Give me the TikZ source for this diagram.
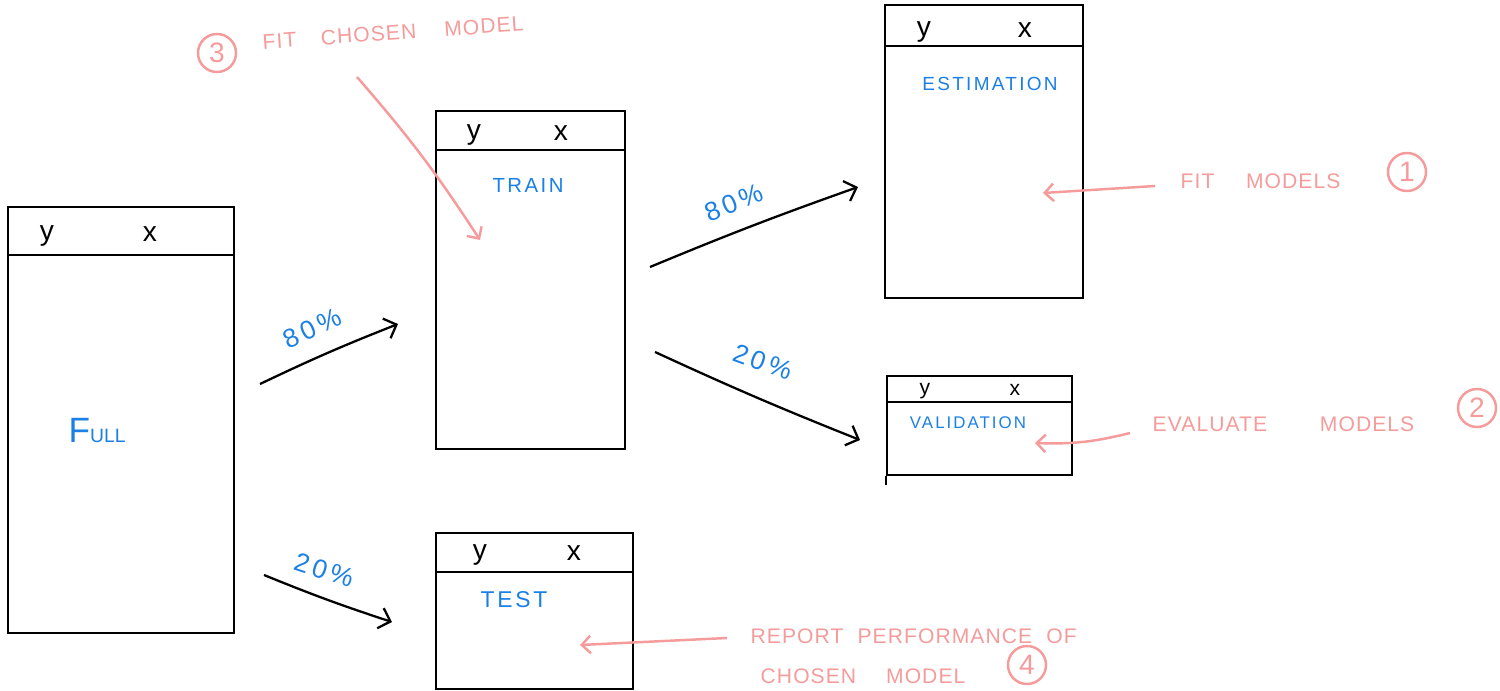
\documentclass[tikz,border=0pt]{standalone}
\usepackage{fontspec}
\setmainfont{Liberation Sans}
\newfontfamily\hand[LetterSpace=12]{Liberation Sans}
\newfontfamily\notefont[LetterSpace=5]{Liberation Sans}
\newfontfamily\pctfont[LetterSpace=15]{Liberation Sans}
\usetikzlibrary{arrows.meta}
\definecolor{pinkc}{HTML}{F59B9B}
\definecolor{bluec}{HTML}{1A80E6}
\begin{document}
\begin{tikzpicture}[x=0.01cm,y=-0.01cm,
  tbl/.style={draw=black, line width=0.65pt, inner sep=0, minimum width=#1},
  hdr/.style={line width=0.65pt},
  var/.style={font=\fontsize{8}{9}\selectfont, inner sep=0},
  lbl/.style={text=bluec, font=\hand\fontsize{5.8}{7}\selectfont, inner sep=0},
  pct/.style={text=bluec, font=\pctfont\fontsize{7.5}{9}\selectfont, inner sep=0},
  split/.style={line width=0.65pt, -{Straight Barb[length=3pt,width=6pt]}},
  note/.style={text=pinkc, font=\notefont\fontsize{6}{8}\selectfont, inner sep=0, anchor=west},
  pointer/.style={draw=pinkc, line width=0.7pt, -{Straight Barb[length=2.5pt,width=5pt]}},
  num/.style={draw=pinkc, text=pinkc, circle, line width=0.7pt, minimum size=0.38cm, inner sep=0, font=\fontsize{8}{9}\selectfont}]
\useasboundingbox (0,0) rectangle (1500,691);

% tables
\node[tbl=2.26cm, minimum height=4.26cm] (full) at (121,420) {};
\node[tbl=1.89cm, minimum height=3.38cm] (train) at (530.5,280) {};
\node[tbl=1.98cm, minimum height=2.93cm] (est) at (984,151.5) {};
\node[tbl=1.85cm, minimum height=0.99cm] (val) at (979.5,425.5) {};
\node[tbl=1.97cm, minimum height=1.56cm] (test) at (534.5,611) {};

\draw[hdr] ([yshift=-0.49cm]full.north west) -- ([yshift=-0.49cm]full.north east);
\draw[hdr] ([yshift=-0.40cm]train.north west) -- ([yshift=-0.40cm]train.north east);
\draw[hdr] ([yshift=-0.42cm]est.north west) -- ([yshift=-0.42cm]est.north east);
\draw[hdr] ([yshift=-0.27cm]val.north west) -- ([yshift=-0.27cm]val.north east);
\draw[hdr] ([yshift=-0.40cm]test.north west) -- ([yshift=-0.40cm]test.north east);
\draw[hdr] (val.south west) -- ([yshift=-0.09cm]val.south west);

% header variables
\node[var] (fy) at (47,236) {y};  \node[var] (fx) at (150,234) {x};
\node[var] (ty) at (474,135) {y}; \node[var] (tx) at (561,133) {x};
\node[var] (ey) at (924,32) {y};  \node[var] (ex) at (1025,30) {x};
\node[var, font=\fontsize{6}{7}\selectfont] (vy) at (925,391) {y};
\node[var, font=\fontsize{6}{7}\selectfont] (vx) at (1015,390) {x};
\node[var] (sy) at (480,555) {y}; \node[var] (sx) at (574,553) {x};

% blue labels
\node[text=bluec, inner sep=0, anchor=west] (fulll) at (68,430) {\fontsize{10}{12}\selectfont F\fontsize{5.5}{7}\selectfont ULL};
\node[lbl] (trainl) at (528,185) {TRAIN};
\node[lbl, font=\hand\fontsize{5.4}{7}\selectfont] (estl) at (990,84) {ESTIMATION};
\node[lbl, font=\hand\fontsize{4.8}{6}\selectfont] (vall) at (968,423) {VALIDATION};
\node[lbl, font=\hand\fontsize{6.5}{7}\selectfont] (testl) at (514,600) {TEST};

% split connectors
\coordinate (a1s) at (260,384); \coordinate (a1e) at (398,324);
\coordinate (a2s) at (264,575); \coordinate (a2e) at (392,622);
\coordinate (a3s) at (650,267); \coordinate (a3e) at (858,187);
\coordinate (a4s) at (655,352); \coordinate (a4e) at (860,440);
\draw[split] (a1s) to[bend left=2] (a1e);
\draw[split] (a2s) to[bend right=2] (a2e);
\draw[split] (a3s) to[bend left=1.5] (a3e);
\draw[split] (a4s) to[bend right=1.5] (a4e);
\node[pct, rotate=25] (p1) at (312,328) {80\%};
\node[pct, rotate=-18] (p2) at (324,570) {20\%};
\node[pct, rotate=22] (p3) at (734,203) {80\%};
\node[pct, rotate=-20] (p4) at (763,362) {20\%};

% pink notes
\node[num] (c3) at (217,53) {3};
\node[note, rotate=4] (n3) at (262,42) {FIT\hspace{7pt}CHOSEN\hspace{8pt}MODEL};
\coordinate (n3s) at (357,77); \coordinate (n3e) at (480,240);
\draw[pointer] (n3s) to[bend left=4] (n3e);

\node[note] (n1) at (1180,181) {FIT\hspace{9pt}MODELS};
\node[num] (c1) at (1407,172) {1};
\coordinate (n1s) at (1155,186); \coordinate (n1e) at (1043,193);
\draw[pointer] (n1s) -- (n1e);

\node[note] (n2) at (1152,424) {EVALUATE\hspace{15pt}MODELS};
\node[num] (c2) at (1477,408) {2};
\coordinate (n2s) at (1130,433); \coordinate (n2e) at (1035,443);
\draw[pointer] (n2s) to[bend left=8] (n2e);

\node[note] (n4a) at (750,636) {REPORT\hspace{4pt}PERFORMANCE\hspace{4pt}OF};
\node[note] (n4b) at (760,676) {CHOSEN\hspace{8.5pt}MODEL};
\node[num] (c4) at (1027,665) {4};
\coordinate (n4s) at (727,638); \coordinate (n4e) at (580,645);
\draw[pointer] (n4s) -- (n4e);
\end{tikzpicture}
\end{document}
